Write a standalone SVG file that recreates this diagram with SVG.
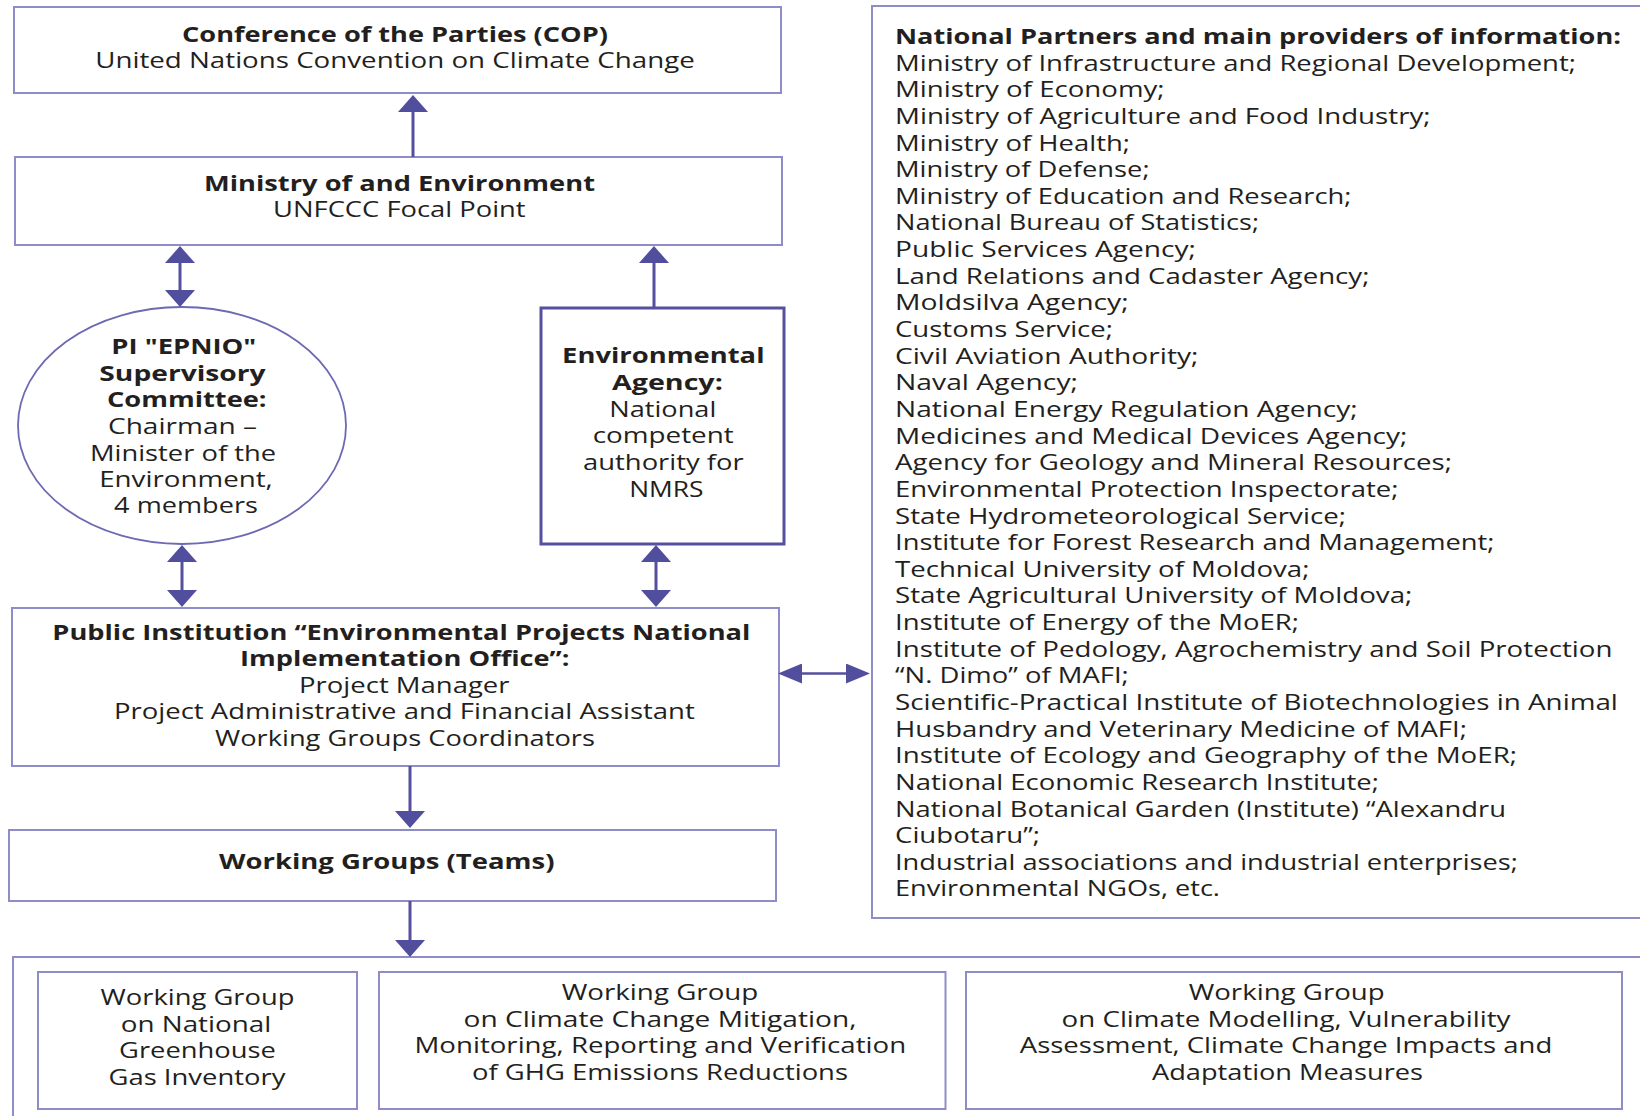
<svg xmlns="http://www.w3.org/2000/svg" width="1640" height="1116" viewBox="0 0 1640 1116">
<style>
.box{fill:#fff;stroke:#8f8dc8;stroke-width:2}
.boxd{fill:#fff;stroke:#55519f;stroke-width:3}
.ell{fill:#fff;stroke:#6d69b3;stroke-width:1.8}
.t{font-family:"Open Sans","DejaVu Sans",sans-serif;font-size:21px;fill:#231f20}
.b{font-weight:bold}
.c{text-anchor:middle}
.con{stroke:#544f9f;stroke-width:3;fill:none}
.conh{stroke:#544f9f;stroke-width:2.3;fill:none}
</style>
<defs>
<marker id="av" markerUnits="userSpaceOnUse" markerWidth="17" markerHeight="30" viewBox="0 0 17 30" refX="7" refY="15" orient="auto-start-reverse"><path d="M0,0 L17,15 L0,30 z" fill="#524e9e"/></marker>
<marker id="ah" markerUnits="userSpaceOnUse" markerWidth="24" markerHeight="20" viewBox="0 0 24 20" refX="14" refY="10" orient="auto-start-reverse"><path d="M0,0 L24,10 L0,20 z" fill="#524e9e"/></marker>
</defs>
<rect width="1640" height="1116" fill="#fff"/>

<g id="cop">
<rect class="box" x="14" y="7" width="767" height="86"/>
<text class="t b c" x="395" y="41.7" textLength="426" lengthAdjust="spacingAndGlyphs">Conference of the Parties (COP)</text>
<text class="t c" x="395" y="68.3" textLength="599.5" lengthAdjust="spacingAndGlyphs">United Nations Convention on Climate Change</text>
</g>

<g id="ministry">
<rect class="box" x="15" y="157" width="767" height="88"/>
<text class="t b c" x="399.5" y="190.7" textLength="391" lengthAdjust="spacingAndGlyphs">Ministry of and Environment</text>
<text class="t c" x="399.3" y="217.3" textLength="252.6" lengthAdjust="spacingAndGlyphs">UNFCCC Focal Point</text>
</g>

<g id="supervisory">
<ellipse class="ell" cx="182" cy="425.5" rx="164" ry="118.5"/>
<text class="t b c" x="183.8" y="354.3" textLength="145" lengthAdjust="spacingAndGlyphs">PI &quot;EPNIO&quot;</text>
<text class="t b c" x="182.5" y="380.5" textLength="166.3" lengthAdjust="spacingAndGlyphs">Supervisory</text>
<text class="t b c" x="186.8" y="407" textLength="159.7" lengthAdjust="spacingAndGlyphs">Committee:</text>
<text class="t c" x="182.5" y="434" textLength="149" lengthAdjust="spacingAndGlyphs">Chairman –</text>
<text class="t c" x="183" y="460.5" textLength="186" lengthAdjust="spacingAndGlyphs">Minister of the</text>
<text class="t c" x="186" y="487" textLength="173.6" lengthAdjust="spacingAndGlyphs">Environment,</text>
<text class="t c" x="186" y="513.3" textLength="143.8" lengthAdjust="spacingAndGlyphs">4 members</text>
</g>

<g id="env-agency">
<rect class="boxd" x="541" y="308" width="243" height="236"/>
<text class="t b c" x="663.3" y="363.3" textLength="202.4" lengthAdjust="spacingAndGlyphs">Environmental</text>
<text class="t b c" x="667.4" y="390" textLength="110.9" lengthAdjust="spacingAndGlyphs">Agency:</text>
<text class="t c" x="662.8" y="416.6" textLength="107" lengthAdjust="spacingAndGlyphs">National</text>
<text class="t c" x="663.2" y="443" textLength="141" lengthAdjust="spacingAndGlyphs">competent</text>
<text class="t c" x="663.4" y="470" textLength="160.6" lengthAdjust="spacingAndGlyphs">authority for</text>
<text class="t c" x="666.3" y="496.5" textLength="74.3" lengthAdjust="spacingAndGlyphs">NMRS</text>
</g>

<g id="epnio">
<rect class="box" x="12" y="608" width="767" height="158"/>
<text class="t b c" x="401.3" y="640" textLength="698" lengthAdjust="spacingAndGlyphs">Public Institution “Environmental Projects National</text>
<text class="t b c" x="404.8" y="665.5" textLength="329.4" lengthAdjust="spacingAndGlyphs">Implementation Office”:</text>
<text class="t c" x="404.3" y="692.5" textLength="210.4" lengthAdjust="spacingAndGlyphs">Project Manager</text>
<text class="t c" x="404.4" y="718.7" textLength="580.8" lengthAdjust="spacingAndGlyphs">Project Administrative and Financial Assistant</text>
<text class="t c" x="405" y="745.8" textLength="380" lengthAdjust="spacingAndGlyphs">Working Groups Coordinators</text>
</g>

<g id="working-groups">
<rect class="box" x="9" y="830" width="767" height="71"/>
<text class="t b c" x="386.7" y="869.3" textLength="335.6" lengthAdjust="spacingAndGlyphs">Working Groups (Teams)</text>
</g>

<g id="partners">
<rect class="box" x="872" y="6" width="790" height="912"/>
<text class="t b" x="895" y="44" textLength="726" lengthAdjust="spacingAndGlyphs">National Partners and main providers of information:</text>
<text class="t" x="895" y="70.64" textLength="681" lengthAdjust="spacingAndGlyphs">Ministry of Infrastructure and Regional Development;</text>
<text class="t" x="895" y="97.28" textLength="269.6" lengthAdjust="spacingAndGlyphs">Ministry of Economy;</text>
<text class="t" x="895" y="123.92" textLength="535.6" lengthAdjust="spacingAndGlyphs">Ministry of Agriculture and Food Industry;</text>
<text class="t" x="895" y="150.56" textLength="235" lengthAdjust="spacingAndGlyphs">Ministry of Health;</text>
<text class="t" x="895" y="177.2" textLength="254.6" lengthAdjust="spacingAndGlyphs">Ministry of Defense;</text>
<text class="t" x="895" y="203.84" textLength="456.5" lengthAdjust="spacingAndGlyphs">Ministry of Education and Research;</text>
<text class="t" x="895" y="230.48" textLength="364" lengthAdjust="spacingAndGlyphs">National Bureau of Statistics;</text>
<text class="t" x="895" y="257.12" textLength="301" lengthAdjust="spacingAndGlyphs">Public Services Agency;</text>
<text class="t" x="895" y="283.76" textLength="474.5" lengthAdjust="spacingAndGlyphs">Land Relations and Cadaster Agency;</text>
<text class="t" x="895" y="310.4" textLength="233.7" lengthAdjust="spacingAndGlyphs">Moldsilva Agency;</text>
<text class="t" x="895" y="337.04" textLength="218" lengthAdjust="spacingAndGlyphs">Customs Service;</text>
<text class="t" x="895" y="363.68" textLength="303.5" lengthAdjust="spacingAndGlyphs">Civil Aviation Authority;</text>
<text class="t" x="895" y="390.32" textLength="183" lengthAdjust="spacingAndGlyphs">Naval Agency;</text>
<text class="t" x="895" y="416.96" textLength="462.7" lengthAdjust="spacingAndGlyphs">National Energy Regulation Agency;</text>
<text class="t" x="895" y="443.6" textLength="512.4" lengthAdjust="spacingAndGlyphs">Medicines and Medical Devices Agency;</text>
<text class="t" x="895" y="470.24" textLength="557" lengthAdjust="spacingAndGlyphs">Agency for Geology and Mineral Resources;</text>
<text class="t" x="895" y="496.88" textLength="503.5" lengthAdjust="spacingAndGlyphs">Environmental Protection Inspectorate;</text>
<text class="t" x="895" y="523.52" textLength="451" lengthAdjust="spacingAndGlyphs">State Hydrometeorological Service;</text>
<text class="t" x="895" y="550.16" textLength="599.5" lengthAdjust="spacingAndGlyphs">Institute for Forest Research and Management;</text>
<text class="t" x="895" y="576.8" textLength="414.4" lengthAdjust="spacingAndGlyphs">Technical University of Moldova;</text>
<text class="t" x="895" y="603.44" textLength="517.4" lengthAdjust="spacingAndGlyphs">State Agricultural University of Moldova;</text>
<text class="t" x="895" y="630.08" textLength="404" lengthAdjust="spacingAndGlyphs">Institute of Energy of the MoER;</text>
<text class="t" x="895" y="656.72" textLength="717.4" lengthAdjust="spacingAndGlyphs">Institute of Pedology, Agrochemistry and Soil Protection</text>
<text class="t" x="895" y="683.36" textLength="233.8" lengthAdjust="spacingAndGlyphs">“N. Dimo” of MAFI;</text>
<text class="t" x="895" y="710" textLength="722.9" lengthAdjust="spacingAndGlyphs">Scientific-Practical Institute of Biotechnologies in Animal</text>
<text class="t" x="895" y="736.64" textLength="572" lengthAdjust="spacingAndGlyphs">Husbandry and Veterinary Medicine of MAFI;</text>
<text class="t" x="895" y="763.28" textLength="622" lengthAdjust="spacingAndGlyphs">Institute of Ecology and Geography of the MoER;</text>
<text class="t" x="895" y="789.92" textLength="484" lengthAdjust="spacingAndGlyphs">National Economic Research Institute;</text>
<text class="t" x="895" y="816.56" textLength="611" lengthAdjust="spacingAndGlyphs">National Botanical Garden (Institute) “Alexandru</text>
<text class="t" x="895" y="843.2" textLength="145" lengthAdjust="spacingAndGlyphs">Ciubotaru”;</text>
<text class="t" x="895" y="869.84" textLength="623" lengthAdjust="spacingAndGlyphs">Industrial associations and industrial enterprises;</text>
<text class="t" x="895" y="896.48" textLength="325" lengthAdjust="spacingAndGlyphs">Environmental NGOs, etc.</text>
</g>

<g id="wg-container">
<rect class="box" x="13" y="957" width="1650" height="170"/>
</g>

<g id="wg-inventory">
<rect class="box" x="38" y="972" width="319" height="137"/>
<text class="t c" x="197.5" y="1004.5" textLength="194" lengthAdjust="spacingAndGlyphs">Working Group</text>
<text class="t c" x="196" y="1031.7" textLength="150.6" lengthAdjust="spacingAndGlyphs">on National</text>
<text class="t c" x="197.5" y="1058.2" textLength="157" lengthAdjust="spacingAndGlyphs">Greenhouse</text>
<text class="t c" x="197" y="1084.7" textLength="177" lengthAdjust="spacingAndGlyphs">Gas Inventory</text>
</g>

<g id="wg-mitigation">
<rect class="box" x="379" y="972" width="566.5" height="137"/>
<text class="t c" x="660" y="1000" textLength="196.7" lengthAdjust="spacingAndGlyphs">Working Group</text>
<text class="t c" x="660" y="1026.7" textLength="393" lengthAdjust="spacingAndGlyphs">on Climate Change Mitigation,</text>
<text class="t c" x="660.3" y="1053.3" textLength="491.6" lengthAdjust="spacingAndGlyphs">Monitoring, Reporting and Verification</text>
<text class="t c" x="660" y="1080" textLength="376" lengthAdjust="spacingAndGlyphs">of GHG Emissions Reductions</text>
</g>

<g id="wg-adaptation">
<rect class="box" x="966" y="972" width="656" height="137"/>
<text class="t c" x="1286.7" y="1000" textLength="196" lengthAdjust="spacingAndGlyphs">Working Group</text>
<text class="t c" x="1286" y="1027" textLength="448.8" lengthAdjust="spacingAndGlyphs">on Climate Modelling, Vulnerability</text>
<text class="t c" x="1286" y="1053.3" textLength="532.4" lengthAdjust="spacingAndGlyphs">Assessment, Climate Change Impacts and</text>
<text class="t c" x="1287.5" y="1080" textLength="271" lengthAdjust="spacingAndGlyphs">Adaptation Measures</text>
</g>

<g id="connectors">
<line class="con" x1="413" y1="157" x2="413" y2="105" marker-end="url(#av)"/>
<line class="con" x1="180" y1="256" x2="180" y2="297" marker-start="url(#av)" marker-end="url(#av)"/>
<line class="con" x1="654" y1="308" x2="654" y2="256" marker-end="url(#av)"/>
<line class="con" x1="182" y1="555" x2="182" y2="597" marker-start="url(#av)" marker-end="url(#av)"/>
<line class="con" x1="656" y1="555" x2="656" y2="597" marker-start="url(#av)" marker-end="url(#av)"/>
<line class="conh" x1="788" y1="673.5" x2="860" y2="673.5" marker-start="url(#ah)" marker-end="url(#ah)"/>
<line class="con" x1="410" y1="766" x2="410" y2="818" marker-end="url(#av)"/>
<line class="con" x1="410" y1="901" x2="410" y2="947" marker-end="url(#av)"/>
</g>
</svg>
